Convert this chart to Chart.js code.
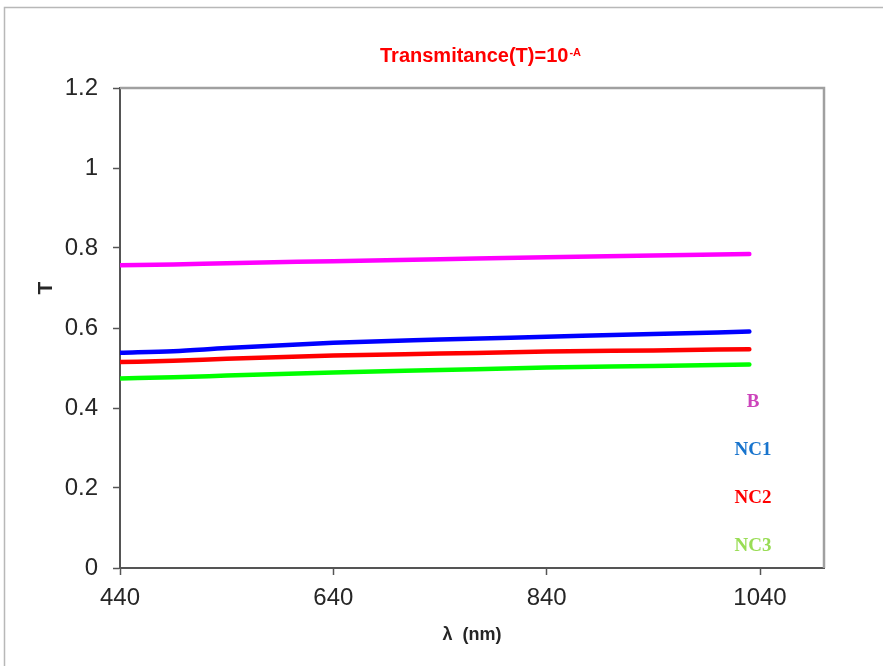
<!DOCTYPE html>
<html><head><meta charset="utf-8">
<script src="https://cdn.jsdelivr.net/npm/chart.js@4/dist/chart.umd.min.js"></script>
<style>html,body{margin:0;padding:0;background:#fff;} #wrap{width:883px;height:666px;}</style>
</head><body><div id="wrap"><canvas id="c" width="883" height="666"></canvas></div>
<script>
const wavelengths = [440, 490, 540, 640, 740, 840, 940, 1030];
const seriesB   = [0.757, 0.759, 0.762, 0.767, 0.772, 0.777, 0.781, 0.785];
const seriesNC1 = [0.538, 0.542, 0.550, 0.563, 0.571, 0.578, 0.585, 0.591];
const seriesNC2 = [0.515, 0.518, 0.523, 0.531, 0.536, 0.541, 0.544, 0.547];
const seriesNC3 = [0.474, 0.477, 0.481, 0.489, 0.495, 0.501, 0.505, 0.509];
const seriesNames = ['B', 'NC1', 'NC2', 'NC3'];
const lineColors = ['#ff00ff', '#0000ff', '#ff0000', '#00ff00'];
const labelColors = ['#cc44bb', '#1874cd', '#ff0000', '#99dd55'];
const xTickLabels = [440, 640, 840, 1040];
const yTickLabels = [0, 0.2, 0.4, 0.6, 0.8, 1, 1.2];
const titleMain = 'Transmitance(T)=10';
const titleSup = '-A';
const xTitle = 'λ  (nm)';
const yTitle = 'T';

const allSeries = [seriesB, seriesNC1, seriesNC2, seriesNC3];
const datasets = allSeries.map((s, i) => ({
  label: seriesNames[i],
  data: wavelengths.map((w, j) => ({x: w, y: s[j]})),
  borderColor: lineColors[i],
  backgroundColor: lineColors[i],
  borderWidth: 4.5,
  borderCapStyle: 'round',
  pointRadius: 0,
  cubicInterpolationMode: 'monotone',
  fill: false
}));

const decor = {
  id: 'decor',
  beforeDraw(chart) {
    const ctx = chart.ctx;
    ctx.save();
    ctx.fillStyle = '#ffffff';
    ctx.fillRect(0, 0, chart.width, chart.height);
    ctx.strokeStyle = '#b8b8b8';
    ctx.lineWidth = 1.5;
    ctx.strokeRect(4.5, 7.5, chart.width + 10, chart.height + 10);
    ctx.restore();
  },
  afterDraw(chart) {
    const ctx = chart.ctx;
    const a = chart.chartArea;
    ctx.save();
    ctx.strokeStyle = '#a0a0a0';
    ctx.lineWidth = 2.5;
    ctx.beginPath();
    ctx.moveTo(a.left, a.top);
    ctx.lineTo(a.right, a.top);
    ctx.lineTo(a.right, a.bottom);
    ctx.stroke();
    ctx.fillStyle = '#ff0000';
    ctx.textBaseline = 'alphabetic';
    ctx.textAlign = 'left';
    ctx.font = 'bold 20px "Liberation Sans", Arial, sans-serif';
    const w1 = ctx.measureText(titleMain).width;
    ctx.font = 'bold 11px "Liberation Sans", Arial, sans-serif';
    const w2 = ctx.measureText(titleSup).width;
    const x0 = 480 - (w1 + w2) / 2;
    ctx.font = 'bold 20px "Liberation Sans", Arial, sans-serif';
    ctx.fillText(titleMain, x0, 62);
    ctx.font = 'bold 11px "Liberation Sans", Arial, sans-serif';
    ctx.fillText(titleSup, x0 + w1 + 1, 56);
    ctx.save();
    ctx.translate(46, 288);
    ctx.rotate(-Math.PI / 2);
    ctx.textAlign = 'center';
    ctx.textBaseline = 'middle';
    ctx.fillStyle = '#262626';
    ctx.font = 'bold 21px "Liberation Sans", Arial, sans-serif';
    ctx.fillText(yTitle, 0, 0);
    ctx.restore();
    ctx.font = 'bold 19px "Liberation Serif", "Times New Roman", serif';
    ctx.textAlign = 'center';
    ctx.textBaseline = 'middle';
    seriesNames.forEach((n, i) => {
      ctx.fillStyle = labelColors[i];
      ctx.fillText(n, 753, 402 + i * 48);
    });
    ctx.restore();
  }
};

new Chart(document.getElementById('c'), {
  type: 'line',
  data: { datasets },
  options: {
    responsive: false,
    animation: false,
    layout: { padding: { left: 0, right: 59, top: 88, bottom: 0 } },
    plugins: { legend: { display: false }, tooltip: { enabled: false }, title: { display: false } },
    scales: {
      x: {
        type: 'linear',
        min: 440, max: 1100,
        afterBuildTicks(s) { s.ticks = xTickLabels.map(v => ({value: v})); },
        afterFit(s) { s.height = 98; },
        grid: { drawOnChartArea: false, drawTicks: true, tickLength: 7, tickColor: '#555', tickWidth: 1.5 },
        border: { display: true, color: '#555', width: 2 },
        ticks: { color: '#262626', font: { family: '"Liberation Sans", Arial, sans-serif', size: 24 }, padding: 9, maxRotation: 0, callback: v => String(v) },
        title: { display: true, text: xTitle, color: '#262626', font: { family: '"Liberation Sans", Arial, sans-serif', size: 18, weight: 'bold' }, padding: { top: 0, bottom: 20 } }
      },
      y: {
        min: 0, max: 1.2,
        afterBuildTicks(s) { s.ticks = yTickLabels.map(v => ({value: v})); },
        afterFit(s) { s.width = 120; },
        grid: { drawOnChartArea: false, drawTicks: true, tickLength: 7, tickColor: '#555', tickWidth: 1.5 },
        border: { display: true, color: '#555', width: 2 },
        ticks: { color: '#262626', font: { family: '"Liberation Sans", Arial, sans-serif', size: 24 }, padding: 15, callback: v => String(v) }
      }
    }
  },
  plugins: [decor]
});
</script>
</body></html>
